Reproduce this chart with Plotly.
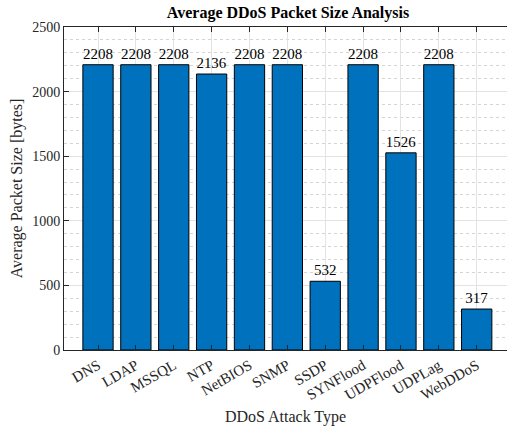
import plotly.graph_objects as go

categories = ["DNS", "LDAP", "MSSQL", "NTP", "NetBIOS", "SNMP", "SSDP",
              "SYNFlood", "UDPFlood", "UDPLag", "WebDDoS"]
avg_size = [2208, 2208, 2208, 2136, 2208, 2208, 532, 2208, 1526, 2208, 317]
positions = list(range(1, len(categories) + 1))
y_ticks = [0, 500, 1000, 1500, 2000, 2500]

FONT = "Liberation Serif"
GRID = "#e3e3e3"

fig = go.Figure()
fig.add_trace(go.Bar(
    x=positions, y=avg_size, width=0.8,
    marker=dict(color="#0072BD", line=dict(color="black", width=1)),
    text=[str(v) for v in avg_size], textposition="outside",
    textfont=dict(family=FONT, size=15, color="black"),
    cliponaxis=False,
))

fig.update_layout(
    width=507, height=430,
    margin=dict(l=64, r=0, t=27, b=80, autoexpand=False),
    paper_bgcolor="white", plot_bgcolor="white",
    showlegend=False,
    font=dict(family=FONT, size=14, color="#262626"),
    title=dict(text="<b>Average DDoS Packet Size Analysis</b>",
               x=288/507, xanchor="center", y=1-12.5/430, yanchor="middle",
               font=dict(family=FONT, size=16, color="black")),
    bargap=0.2,
)
fig.update_xaxes(
    automargin=False,
    range=[0.102, 11.8],
    tickmode="array", tickvals=positions, ticktext=categories,
    tickangle=-30,
    showline=True, linecolor="#262626", linewidth=1, mirror="ticks",
    ticks="inside", ticklen=5, tickcolor="#262626",
    showgrid=True, gridcolor=GRID, gridwidth=1,
    zeroline=False,
    tickfont=dict(family=FONT, size=15, color="#262626"),
    title=dict(text="DDoS Attack Type", font=dict(family=FONT, size=16, color="#262626"), standoff=8),
)
fig.update_yaxes(
    automargin=False,
    range=[0, 2500],
    tickmode="array", tickvals=y_ticks,
    showline=True, linecolor="#262626", linewidth=1,
    ticks="inside", ticklen=5, tickcolor="#262626",
    showgrid=True, gridcolor=GRID, gridwidth=1,
    minor=dict(dtick=100, showgrid=True, gridcolor="#d4d4d4", griddash="dot", gridwidth=1),
    zeroline=False,
    tickfont=dict(family=FONT, size=14, color="#262626"),
    title=dict(text="Average Packet Size [bytes]", font=dict(family=FONT, size=16, color="#262626"), standoff=5),
)

fig.write_html(
    "out.html",
    config={"displayModeBar": False},
    post_script="document.body.style.margin='0';document.body.style.overflow='hidden';",
)
